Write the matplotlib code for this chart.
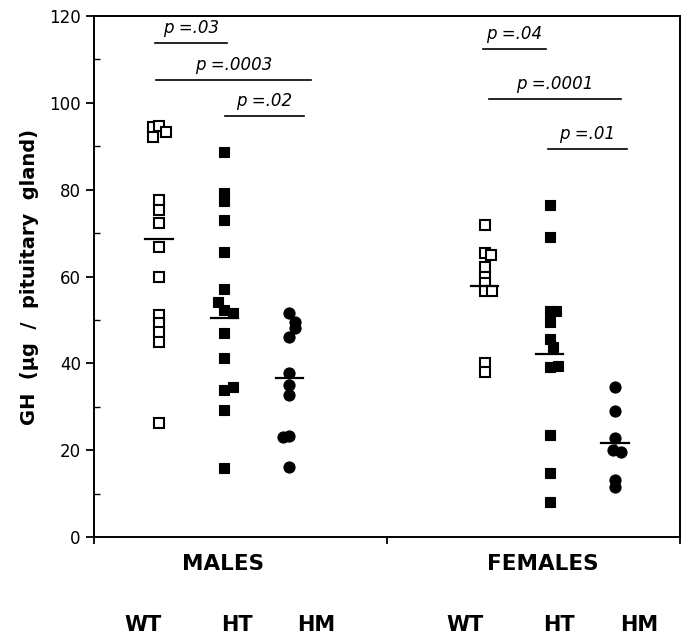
import matplotlib
matplotlib.use("Agg")
import matplotlib.pyplot as plt
from matplotlib.ticker import MultipleLocator

# GH content per pituitary gland (ug)
m_wt = [94.4, 94.6, 92.2, 93.3, 77.6, 75.3, 72.3, 66.8, 59.9, 51.1, 49.3, 47.2, 44.9, 26.3]
m_ht = [88.7, 79.2, 77.4, 73.0, 65.7, 57.1, 54.1, 52.3, 51.6, 47.0, 41.2, 34.5, 33.9, 29.2, 15.9]
m_hm = [51.6, 49.5, 48.2, 46.1, 37.8, 35.0, 32.7, 23.0, 23.3, 16.1]
f_wt = [71.9, 65.4, 65.0, 62.2, 59.9, 58.5, 56.7, 56.7, 40.1, 38.0]
f_ht = [76.5, 69.1, 52.1, 52.1, 49.5, 45.6, 43.8, 39.1, 39.3, 23.5, 14.7, 8.1]
f_hm = [34.6, 29.0, 22.7, 20.0, 19.5, 13.1, 11.5]

# small horizontal shifts of overlapping points (x units)
m_wt_dx = [-0.09, 0.0, -0.09, 0.1, 0, 0, 0, 0, 0, 0, 0, 0, 0, 0]
m_ht_dx = [0, 0, 0, 0, 0, 0, -0.1, 0, 0.13, 0, 0, 0.13, 0, 0, 0]
m_hm_dx = [0, 0.09, 0.09, 0, 0, 0, 0, -0.1, 0.0, 0]
f_wt_dx = [0, 0, 0.1, 0, 0, 0, 0, 0.11, 0, 0]
f_ht_dx = [0, 0, 0, 0.09, 0, 0, 0.05, 0, 0.12, 0, 0, 0]
f_hm_dx = [0, 0, 0, -0.03, 0.1, 0, 0]

means = [68.6, 50.4, 36.6, 57.8, 42.1, 21.6]

groups = ["WT", "HT", "HM", "WT", "HT", "HM"]
sexes = ["MALES", "FEMALES"]

# significance bars: (x start, x end, y level, label)
sig_x0 = [0.94, 0.95, 2.02, 5.98, 6.06, 6.97]
sig_x1 = [2.05, 3.34, 3.22, 6.94, 8.09, 8.18]
sig_y = [113.8, 105.3, 97.0, 112.4, 100.9, 89.4]
sig_lbl = ["p =.03", "p =.0003", "p =.02", "p =.04", "p =.0001", "p =.01"]

pos = [1, 2, 3, 6, 7, 8]

fig = plt.figure(figsize=(6.82, 6.35), dpi=100)
ax = fig.add_axes([0.1378, 0.1543, 0.8592, 0.8205])

data = [m_wt, m_ht, m_hm, f_wt, f_ht, f_hm]
offs = [m_wt_dx, m_ht_dx, m_hm_dx, f_wt_dx, f_ht_dx, f_hm_dx]
styles = [("s", "white"), ("s", "black"), ("o", "black")] * 2

for p, vals, dx, (mk, fc) in zip(pos, data, offs, styles):
    xs = [p + d for d in dx]
    ms = 8 if mk == "o" else 7.5
    ax.plot(xs, vals, ls="none", marker=mk, ms=ms, mfc=fc, mec="black",
            mew=1.5 if fc == "white" else 0.8)

for p, m in zip(pos, means):
    ax.plot([p - 0.21, p + 0.21], [m, m], color="black", lw=1.6)

for x0, x1, y, lbl in zip(sig_x0, sig_x1, sig_y, sig_lbl):
    ax.plot([x0, x1], [y, y], color="black", lw=1.2)
    ax.text((x0 + x1) / 2, y + 1.3, lbl, ha="center", va="bottom",
            fontsize=12, style="italic")

ax.set_xlim(0, 9)
ax.set_ylim(0, 120)
ax.yaxis.set_major_locator(MultipleLocator(20))
ax.yaxis.set_minor_locator(MultipleLocator(10))
ax.set_xticks([0, 4.5, 9])
ax.set_xticklabels([])
ax.tick_params(axis="y", which="major", direction="out", length=6, width=1.3,
               labelsize=12)
ax.tick_params(axis="y", which="minor", direction="in", length=4, width=1.0)
ax.tick_params(axis="x", direction="out", length=5, width=1.3)
for s in ax.spines.values():
    s.set_linewidth(1.4)

ax.set_ylabel("GH  (µg  /  pituitary  gland)", fontsize=14, fontweight="bold",
              labelpad=7)

trans = ax.get_xaxis_transform()
for x, s in zip([1.98, 6.9], sexes):
    ax.text(x, -0.052, s, transform=trans, ha="center", va="center",
            fontsize=15.5, fontweight="bold")
for x, g in zip([0.75, 2.2, 3.42, 5.7, 7.14, 8.37], groups):
    ax.text(x, -0.168, g, transform=trans, ha="center", va="center",
            fontsize=15, fontweight="bold")

fig.savefig("out.png", dpi=100)
